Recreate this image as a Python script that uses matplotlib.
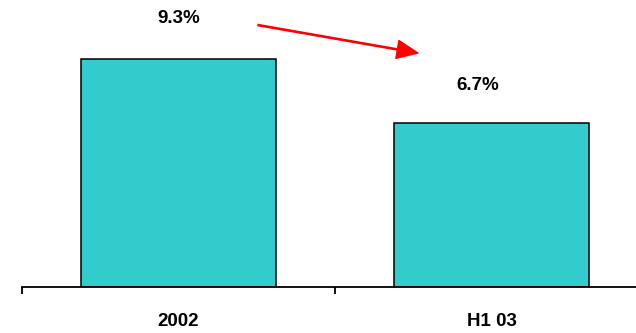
import matplotlib
matplotlib.use("Agg")
import matplotlib.pyplot as plt
from matplotlib.ticker import FixedLocator

categories = ["2002", "H1 03"]
values = [9.3, 6.7]
value_labels = ["9.3%", "6.7%"]

plt.rcParams['font.family'] = ['Liberation Sans', 'DejaVu Sans']

fig = plt.figure(figsize=(6.36, 3.33), dpi=100)
ax = fig.add_axes([22/636, 46/333, 626/636, 287/333])

x = list(range(len(categories)))
ax.bar(x, values, width=0.626, color="#33CCCC", edgecolor="black", linewidth=1.1, zorder=2)

ax.set_xlim(-0.5, 1.5)
ax.set_ylim(0, 287/24.5)

for s in ["top", "right", "left"]:
    ax.spines[s].set_visible(False)
ax.spines["bottom"].set_linewidth(1.3)
ax.set_yticks([])

ax.set_xticks(x)
ax.set_xticklabels(categories, fontsize=13.5, fontweight="bold")
ax.tick_params(axis="x", which="major", length=0, pad=19)
ax.xaxis.set_minor_locator(FixedLocator([-0.5, 0.5, 1.5]))
ax.tick_params(axis="x", which="minor", length=5, width=1.3, direction="out")

# value labels
offsets = [(0, 41), (-14, 37)]
for i, (v, lab) in enumerate(zip(values, value_labels)):
    ax.annotate(lab, xy=(x[i], v), xytext=offsets[i], textcoords="offset pixels",
                ha="center", va="center", fontsize=13.5, fontweight="bold")

# red arrow indicating decrease
ax.annotate("", xy=(0.765, 9.55), xytext=(0.254, 10.69),
            arrowprops=dict(color="red", width=0.9, headwidth=13, headlength=15, shrink=0))

fig.savefig("out.png", dpi=100)
